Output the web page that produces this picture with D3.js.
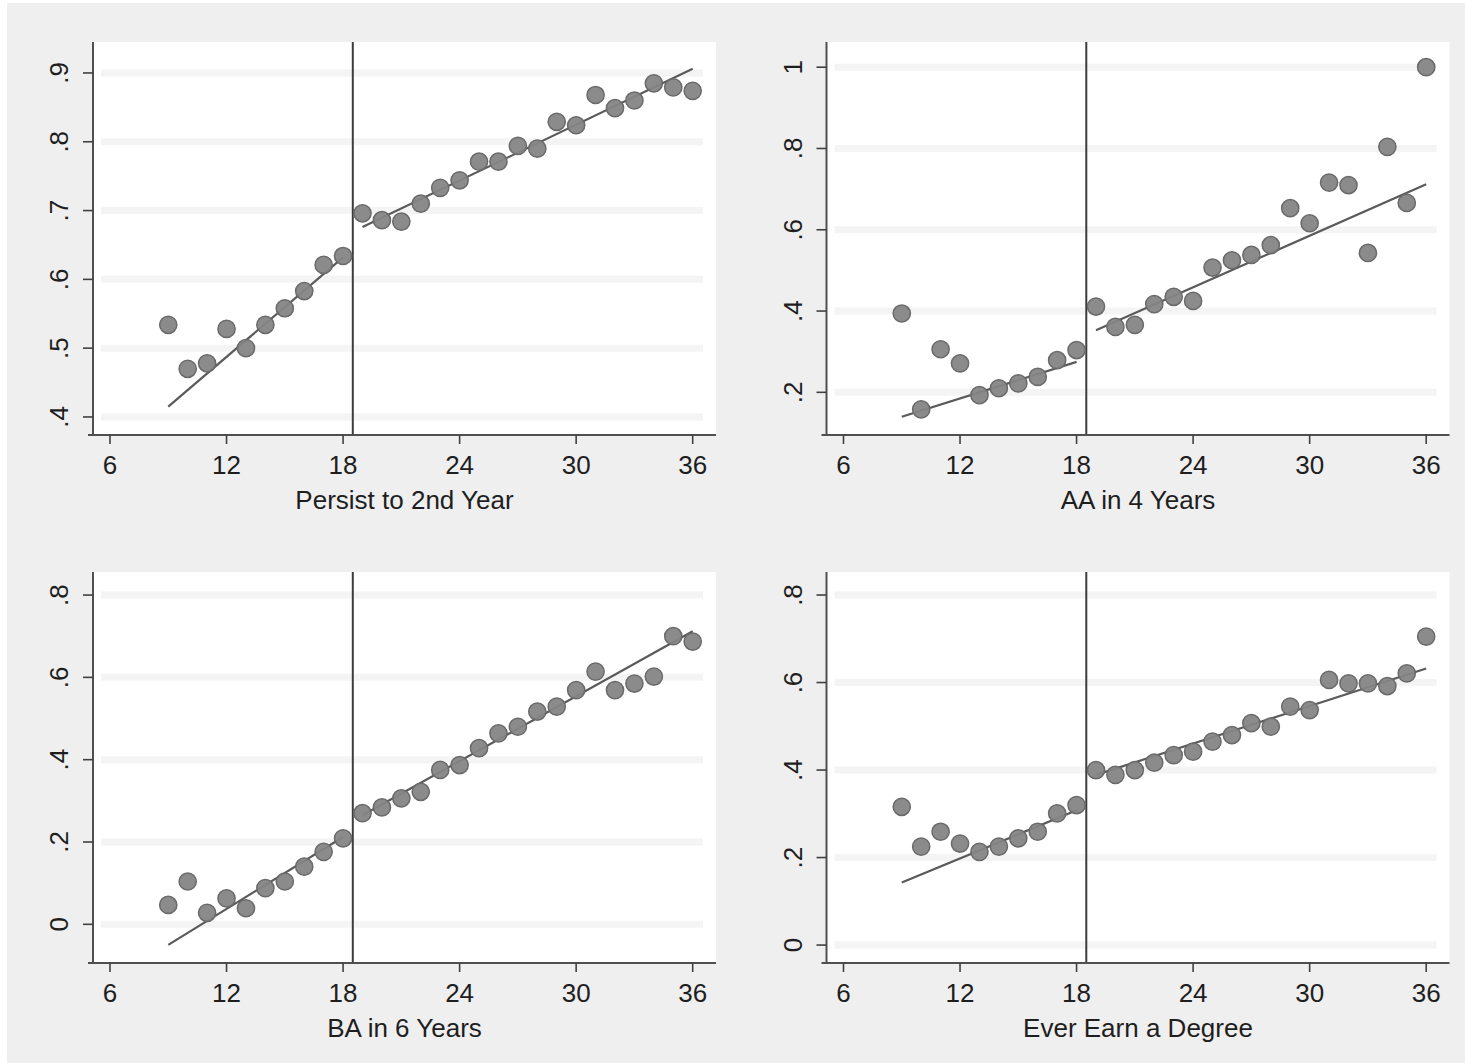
<!DOCTYPE html>
<html>
<head>
<meta charset="utf-8">
<script src="https://cdn.jsdelivr.net/npm/d3@7"></script>
<style>
  html, body { margin: 0; padding: 0; background: #ffffff; }
  svg { display: block; }
  text { font-family: "Liberation Sans", Arial, Helvetica, sans-serif; fill: #1e1e1e; }
</style>
</head>
<body>
<svg id="chart" width="1465" height="1063"></svg>
<script>
// Running variable (months) shared by every panel
const months = [9, 10, 11, 12, 13, 14, 15, 16, 17, 18,
                19, 20, 21, 22, 23, 24, 25, 26, 27, 28,
                29, 30, 31, 32, 33, 34, 35, 36];

// Binned outcome means
const persistSecondYear = [0.534, 0.470, 0.478, 0.528, 0.500, 0.534, 0.558, 0.583, 0.621, 0.634,
                           0.696, 0.686, 0.684, 0.710, 0.733, 0.744, 0.771, 0.771, 0.794, 0.790,
                           0.829, 0.824, 0.868, 0.849, 0.860, 0.885, 0.879, 0.874];
const aaFourYears = [0.394, 0.158, 0.306, 0.271, 0.193, 0.210, 0.222, 0.238, 0.279, 0.304,
                     0.411, 0.361, 0.366, 0.417, 0.435, 0.425, 0.507, 0.525, 0.538, 0.562,
                     0.653, 0.616, 0.716, 0.710, 0.543, 0.804, 0.666, 1.000];
const baSixYears = [0.047, 0.104, 0.028, 0.063, 0.039, 0.088, 0.104, 0.140, 0.176, 0.209,
                    0.270, 0.284, 0.306, 0.322, 0.375, 0.387, 0.428, 0.464, 0.480, 0.517,
                    0.529, 0.569, 0.614, 0.569, 0.585, 0.602, 0.700, 0.687];
const everEarnDegree = [0.316, 0.225, 0.259, 0.232, 0.213, 0.225, 0.244, 0.259, 0.301, 0.320,
                        0.400, 0.389, 0.400, 0.417, 0.434, 0.442, 0.465, 0.480, 0.507, 0.499,
                        0.545, 0.537, 0.606, 0.598, 0.598, 0.592, 0.621, 0.705];

// Linear fits on each side of the cutoff: [x, fitted value] at the segment ends
const fitPersist = [[[9, 0.415], [18, 0.632]], [[19, 0.676], [36, 0.906]]];
const fitAA      = [[[9, 0.140], [18, 0.275]], [[19, 0.353], [36, 0.712]]];
const fitBA      = [[[9, -0.050], [18, 0.212]], [[19, 0.265], [36, 0.712]]];
const fitDegree  = [[[9, 0.143], [18, 0.308]], [[19, 0.389], [36, 0.632]]];

const cutoff = 18.5;
const panelTitles = ["Persist to 2nd Year", "AA in 4 Years", "BA in 6 Years", "Ever Earn a Degree"];
const xTicks = [6, 12, 18, 24, 30, 36];
const yTicksPersist = [0.4, 0.5, 0.6, 0.7, 0.8, 0.9];
const yTicksAA = [0.2, 0.4, 0.6, 0.8, 1];
const yTicksBA = [0, 0.2, 0.4, 0.6, 0.8];
const yTicksDegree = [0, 0.2, 0.4, 0.6, 0.8];

// Axis extents of each panel
const yExtentPersist = [0.3738, 0.945];
const yExtentAA = [0.095, 1.062];
const yExtentBA = [-0.094, 0.856];
const yExtentDegree = [-0.041, 0.8526];
const xExtent = [5.125, 37.2];

const panels = [
  { title: panelTitles[0], values: persistSecondYear, fit: fitPersist, ticks: yTicksPersist, ext: yExtentPersist, ox: 93,    oy: 42,  h: 393 },
  { title: panelTitles[1], values: aaFourYears,       fit: fitAA,      ticks: yTicksAA,      ext: yExtentAA,      ox: 826.5, oy: 42,  h: 393 },
  { title: panelTitles[2], values: baSixYears,        fit: fitBA,      ticks: yTicksBA,      ext: yExtentBA,      ox: 93,    oy: 572, h: 391 },
  { title: panelTitles[3], values: everEarnDegree,    fit: fitDegree,  ticks: yTicksDegree,  ext: yExtentDegree,  ox: 826.5, oy: 572, h: 391 }
];

const W = 623; // plot-region width
const svg = d3.select("#chart");

// Graph region background
svg.append("rect").attr("x", 7).attr("y", 3).attr("width", 1458).attr("height", 1060).attr("fill", "#efefef");

const fmt = v => (v === 0 ? "0" : v === 1 ? "1" : String(+v.toFixed(2)).replace(/^0/, ""));

panels.forEach(p => {
  const g = svg.append("g").attr("transform", `translate(${p.ox},${p.oy})`);
  const x = d3.scaleLinear().domain(xExtent).range([0, W]);
  const y = d3.scaleLinear().domain(p.ext).range([p.h, 0]);

  // plot region
  g.append("rect").attr("width", W).attr("height", p.h).attr("fill", "#ffffff");

  // horizontal grid bands
  g.selectAll("line.grid").data(p.ticks).join("line")
    .attr("class", "grid")
    .attr("x1", 8).attr("x2", W - 13)
    .attr("y1", d => y(d)).attr("y2", d => y(d))
    .attr("stroke", "#f4f4f4").attr("stroke-width", 7);

  // cutoff line
  g.append("line")
    .attr("x1", x(cutoff)).attr("x2", x(cutoff))
    .attr("y1", 0).attr("y2", p.h)
    .attr("stroke", "#3c3c3c").attr("stroke-width", 2);

  // fitted lines
  const line = d3.line().x(d => x(d[0])).y(d => y(d[1]));
  g.selectAll("path.fit").data(p.fit).join("path")
    .attr("class", "fit")
    .attr("d", line)
    .attr("fill", "none").attr("stroke", "#5a5a5a").attr("stroke-width", 2.2);

  // binned means
  g.selectAll("circle").data(months.map((m, i) => [m, p.values[i]])).join("circle")
    .attr("cx", d => x(d[0])).attr("cy", d => y(d[1])).attr("r", 8.6)
    .attr("fill", "#858585").attr("stroke", "#6a6a6a").attr("stroke-width", 1.5)
    .attr("fill-opacity", 0.95);

  // axes
  g.append("line").attr("x1", 0).attr("x2", 0).attr("y1", 0).attr("y2", p.h + 1)
    .attr("stroke", "#505050").attr("stroke-width", 2);
  g.append("line").attr("x1", -5).attr("x2", W).attr("y1", p.h).attr("y2", p.h)
    .attr("stroke", "#505050").attr("stroke-width", 2);

  // x ticks + labels
  const xt = g.selectAll("g.xt").data(xTicks).join("g").attr("class", "xt")
    .attr("transform", d => `translate(${x(d)},${p.h})`);
  xt.append("line").attr("y1", 0).attr("y2", 9).attr("stroke", "#404040").attr("stroke-width", 1.6);
  xt.append("text").attr("y", 39).attr("text-anchor", "middle").attr("font-size", 26).text(d => d);

  // y ticks + rotated labels
  const yt = g.selectAll("g.yt").data(p.ticks).join("g").attr("class", "yt")
    .attr("transform", d => `translate(0,${y(d)})`);
  yt.append("line").attr("x1", 0).attr("x2", -10).attr("stroke", "#404040").attr("stroke-width", 1.6);
  yt.append("text").attr("transform", "translate(-25,0) rotate(-90)")
    .attr("text-anchor", "middle").attr("font-size", 26).text(d => fmt(d));

  // axis title
  g.append("text").attr("x", W / 2).attr("y", p.h + 74)
    .attr("text-anchor", "middle").attr("font-size", 26).text(p.title);
});
</script>
</body>
</html>
